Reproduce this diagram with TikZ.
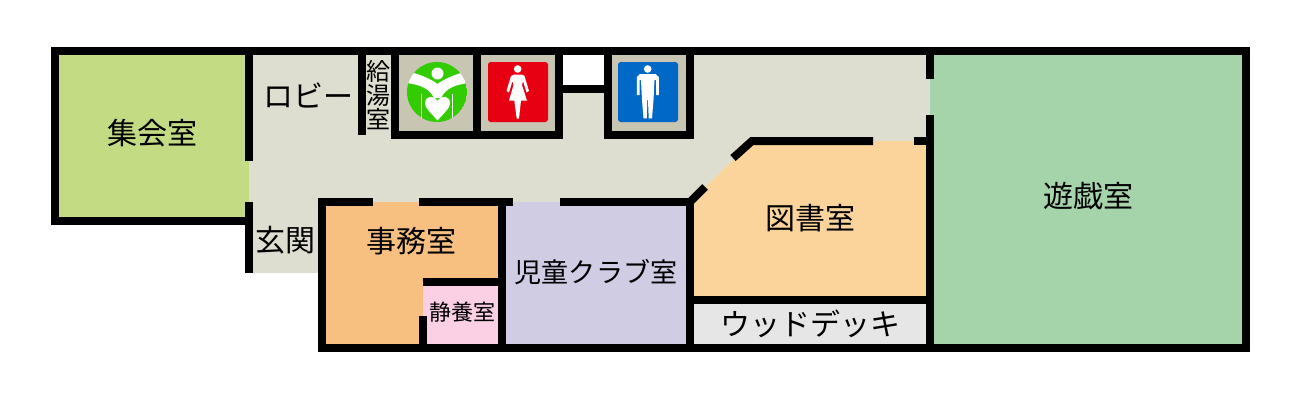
\documentclass[tikz,border=0pt]{standalone}
\usepackage{fontspec}
\setmainfont{Noto Sans CJK JP}
\definecolor{lobby}{HTML}{DDDDD0}
\definecolor{toilet}{HTML}{C8C6B2}
\definecolor{meeting}{HTML}{C3DB82}
\definecolor{office}{HTML}{F8C080}
\definecolor{rest}{HTML}{FBD0E4}
\definecolor{club}{HTML}{D0CCE4}
\definecolor{library}{HTML}{FBD49C}
\definecolor{deck}{HTML}{E6E6E6}
\definecolor{play}{HTML}{A5D3AA}
\definecolor{logogreen}{HTML}{33CC00}
\definecolor{womanred}{HTML}{E60012}
\definecolor{manblue}{HTML}{0068C6}
\tikzset{
 wall/.style={black, line width=6pt},
 roomlabel/.style={font=\fontsize{22.5pt}{25pt}\selectfont, inner sep=0},
 smalllabel/.style={font=\fontsize{16.5pt}{18pt}\selectfont, inner sep=0},
 tinylabel/.style={font=\fontsize{18pt}{18.2pt}\selectfont, inner sep=0, align=center},
}
\begin{document}
\begin{tikzpicture}[x=.75pt, y=-.75pt]
\useasboundingbox (0,0) rectangle (1300,400);
% room colours
\fill[lobby] (249,51)--(930,51)--(930,141)--(752,141)--(690,202)--(249,202)--cycle;
\fill[lobby] (249,201) rectangle (322,273);
\fill[meeting] (55,51) rectangle (249,221);
\fill[office] (322,202) rectangle (502,348);
\fill[rest] (423,282) rectangle (502,348);
\fill[club] (502,202) rectangle (690,348);
\fill[library] (690,202)--(752,141)--(930,141)--(930,300)--(690,300)--cycle;
\fill[deck] (690,300) rectangle (930,348);
\fill[play] (930,51) rectangle (1246,348);
\foreach \xa/\xb in {399/473, 481/556, 612/686} {
 \fill[toilet] (\xa,55) rectangle (\xb,131);
}
\fill[white] (560,51) rectangle (608,89);
% walls
\draw[wall] (51,51)--(1246,51)--(1246,348)--(322,348)--(322,202)--(373,202);
\draw[wall] (55,47)--(55,221)--(51,221);
\draw[wall] (55,221)--(249,221);
\draw[wall] (249,51)--(249,161);
\draw[wall] (249,202)--(249,273);
\draw[wall] (419,202)--(513,202);
\draw[wall] (560,202)--(690,202);
\draw[wall] (502,202)--(502,348);
\draw[wall] (423,282)--(502,282);
\draw[wall] (423,316)--(423,348);
\draw[wall] (690,202)--(690,348);
\draw[wall] (690,300)--(930,300);
\draw[wall] (930,51)--(930,79);
\draw[wall] (930,115)--(930,348);
\draw[wall] (733,158)--(752,141)--(873,141);
\draw[wall] (914,141)--(930,141);
\draw[wall] (690,202)--(705,187);
\draw[wall] (362,51)--(362,135);
\draw[wall] (395,51)--(395,135)--(559,135)--(559,51);
\draw[wall] (477,51)--(477,135);
\draw[wall] (559,89)--(608,89);
\draw[wall] (608,51)--(608,135)--(690,135)--(690,51);
% green logo
\begin{scope}
\clip (437,92) circle (30);
\fill[logogreen] (437,92) circle (30);
\fill[white] (411,72) .. controls (421,75) and (431,79) .. (437.5,84) .. controls (444,79) and (454,75) .. (464,72)
 --(468,83) .. controls (455,85) and (446,88) .. (441,98)--(434,98) .. controls (429,88) and (420,85) .. (407,83)--cycle;
\end{scope}
\fill[white] (437.5,73.5) circle (6);
\fill[white] (437.5,120.5) .. controls (431,113) and (425,108) .. (425,103.5) .. controls (425,95) and (434,95) .. (437.5,101)
 .. controls (441,95) and (450,95) .. (450,103.5) .. controls (450,108) and (444,113) .. (437.5,120.5)--cycle;
\foreach \x in {421.5, 452.5} {
 \draw[white, line width=.9pt] (\x,94)--(\x,118);
}
% woman
\fill[womanred, rounded corners=2pt] (488,62) rectangle (548,122);
\fill[white] (517.7,69) circle (3.8);
\fill[white] (514,74.5)--(521.5,74.5)--(524.5,76)--(529,91)--(526.5,92.5)--(523,81)--(522,85)--(527,100.7)--(521,100.7)--(519,118.5)--(516.7,118.5)--(514.3,100.7)--(509,100.7)--(513.5,85)--(512.5,81)--(509,92.5)--(506.5,91)--(511,76)--cycle;
% man
\fill[manblue, rounded corners=2pt] (618,62) rectangle (678,122);
\fill[white] (647.7,69) circle (3.8);
\fill[white] (640,74)--(655.5,74)--(658.8,77)--(658.8,95)--(656,95)--(656,80)--(654.5,80)--(653.5,100)--(652,118.3)--(648.7,118.3)--(648,100)--(647.2,100)--(646.8,118.3)--(643.5,118.3)--(642,100)--(641,80)--(639.7,80)--(639.7,95)--(636.8,95)--(636.8,77)--cycle;
% labels
\node[roomlabel] (meetinglabel) at (152,133) {集会室};
\node[roomlabel] (lobbylabel) at (308,95) {ロビー};
\node[tinylabel] (kitchenlabel) at (378,95) {給\\湯\\室};
\node[roomlabel] (entrancelabel) at (285,240) {玄関};
\node[roomlabel] (officelabel) at (411.5,241) {事務室};
\node[smalllabel] (restlabel) at (462,312) {静養室};
\node[roomlabel, font=\fontsize{20.3pt}{22pt}\selectfont] (clublabel) at (596,272) {児童クラブ室};
\node[roomlabel] (librarylabel) at (810,218) {図書室};
\node[roomlabel] (decklabel) at (810,324) {ウッドデッキ};
\node[roomlabel] (playlabel) at (1088,196) {遊戯室};
\end{tikzpicture}
\end{document}
